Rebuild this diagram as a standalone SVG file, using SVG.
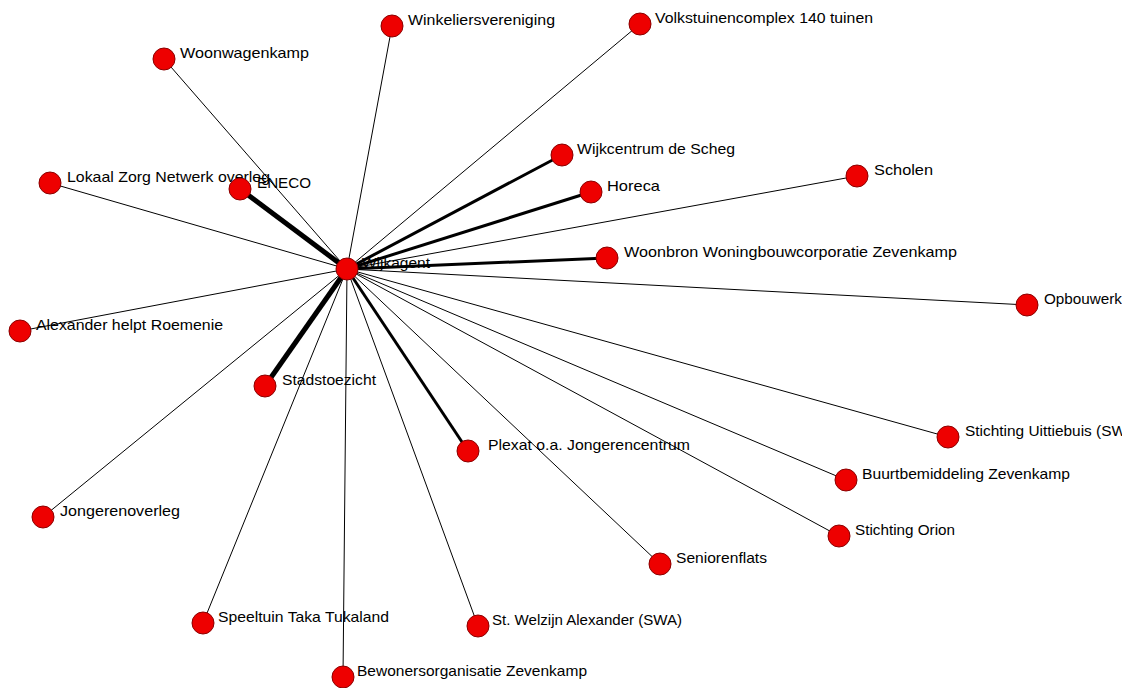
<svg xmlns="http://www.w3.org/2000/svg" width="1137" height="688" viewBox="0 0 1137 688">
<style>
.n{fill:#ee0000;stroke:#8b0000;stroke-width:1}
.t{font-family:"Liberation Sans",Arial,sans-serif;font-size:14.5px;fill:#000}
.e{stroke:#000;stroke-width:1;fill:none}
.m{stroke:#000;stroke-width:3;fill:none}
.w{stroke:#000;stroke-width:5;fill:none}
</style>
<defs>
<clipPath id="clip"><rect x="0" y="0" width="1122" height="688"/></clipPath>
</defs>
<rect width="1137" height="688" fill="#fff"/>
<g id="connectors">
<line class="e" x1="347" y1="269" x2="392" y2="26"/>
<line class="e" x1="347" y1="269" x2="640" y2="24"/>
<line class="e" x1="347" y1="269" x2="164" y2="59"/>
<line class="e" x1="347" y1="269" x2="50" y2="183"/>
<line class="w" x1="347" y1="269" x2="240" y2="189"/>
<line class="m" x1="347" y1="269" x2="562" y2="155"/>
<line class="m" x1="347" y1="269" x2="591" y2="192"/>
<line class="e" x1="347" y1="269" x2="857" y2="176"/>
<line class="m" x1="347" y1="269" x2="607" y2="258"/>
<line class="e" x1="347" y1="269" x2="1027" y2="305"/>
<line class="e" x1="347" y1="269" x2="20" y2="331"/>
<line class="w" x1="347" y1="269" x2="265" y2="386"/>
<line class="m" x1="347" y1="269" x2="468" y2="451"/>
<line class="e" x1="347" y1="269" x2="948" y2="437"/>
<line class="e" x1="347" y1="269" x2="846" y2="480"/>
<line class="e" x1="347" y1="269" x2="839" y2="536"/>
<line class="e" x1="347" y1="269" x2="43" y2="517"/>
<line class="e" x1="347" y1="269" x2="660" y2="564"/>
<line class="e" x1="347" y1="269" x2="203" y2="623"/>
<line class="e" x1="347" y1="269" x2="478" y2="626"/>
<line class="e" x1="347" y1="269" x2="343" y2="677"/>
</g>
<g id="wijkagent"><circle class="n" cx="347" cy="269" r="11"/><text class="t" x="362" y="268" textLength="68" lengthAdjust="spacingAndGlyphs">Wijkagent</text></g>
<g id="winkeliersvereniging"><circle class="n" cx="392" cy="26" r="11"/><text class="t" x="408" y="25" textLength="147" lengthAdjust="spacingAndGlyphs">Winkeliersvereniging</text></g>
<g id="volkstuinencomplex"><circle class="n" cx="640" cy="24" r="11"/><text class="t" x="655" y="23" textLength="218" lengthAdjust="spacingAndGlyphs">Volkstuinencomplex 140 tuinen</text></g>
<g id="woonwagenkamp"><circle class="n" cx="164" cy="59" r="11"/><text class="t" x="180" y="58" textLength="129" lengthAdjust="spacingAndGlyphs">Woonwagenkamp</text></g>
<g id="lokaal"><circle class="n" cx="50" cy="183" r="11"/><text class="t" x="67" y="182" textLength="203" lengthAdjust="spacingAndGlyphs">Lokaal Zorg Netwerk overleg</text></g>
<g id="eneco"><circle class="n" cx="240" cy="189" r="11"/><text class="t" x="257" y="188" textLength="54" lengthAdjust="spacingAndGlyphs">ENECO</text></g>
<g id="wijkcentrum"><circle class="n" cx="562" cy="155" r="11"/><text class="t" x="577" y="154" textLength="158" lengthAdjust="spacingAndGlyphs">Wijkcentrum de Scheg</text></g>
<g id="horeca"><circle class="n" cx="591" cy="192" r="11"/><text class="t" x="607" y="191" textLength="53" lengthAdjust="spacingAndGlyphs">Horeca</text></g>
<g id="scholen"><circle class="n" cx="857" cy="176" r="11"/><text class="t" x="874" y="175" textLength="59" lengthAdjust="spacingAndGlyphs">Scholen</text></g>
<g id="woonbron"><circle class="n" cx="607" cy="258" r="11"/><text class="t" x="624" y="257" textLength="333" lengthAdjust="spacingAndGlyphs">Woonbron Woningbouwcorporatie Zevenkamp</text></g>
<g id="opbouwerk" clip-path="url(#clip)"><circle class="n" cx="1027" cy="305" r="11"/><text class="t" x="1044" y="304" textLength="78" lengthAdjust="spacingAndGlyphs">Opbouwerk</text></g>
<g id="alexander"><circle class="n" cx="20" cy="331" r="11"/><text class="t" x="36" y="330" textLength="187" lengthAdjust="spacingAndGlyphs">Alexander helpt Roemenie</text></g>
<g id="stadstoezicht"><circle class="n" cx="265" cy="386" r="11"/><text class="t" x="282" y="385" textLength="94" lengthAdjust="spacingAndGlyphs">Stadstoezicht</text></g>
<g id="plexat"><circle class="n" cx="468" cy="451" r="11"/><text class="t" x="488" y="450" textLength="202" lengthAdjust="spacingAndGlyphs">Plexat o.a. Jongerencentrum</text></g>
<g id="uittiebuis" clip-path="url(#clip)"><circle class="n" cx="948" cy="437" r="11"/><text class="t" x="965" y="436" textLength="161" lengthAdjust="spacingAndGlyphs">Stichting Uittiebuis (SW</text></g>
<g id="buurtbemiddeling"><circle class="n" cx="846" cy="480" r="11"/><text class="t" x="862" y="479" textLength="208" lengthAdjust="spacingAndGlyphs">Buurtbemiddeling Zevenkamp</text></g>
<g id="orion"><circle class="n" cx="839" cy="536" r="11"/><text class="t" x="855" y="535" textLength="100" lengthAdjust="spacingAndGlyphs">Stichting Orion</text></g>
<g id="jongerenoverleg"><circle class="n" cx="43" cy="517" r="11"/><text class="t" x="60" y="516" textLength="120" lengthAdjust="spacingAndGlyphs">Jongerenoverleg</text></g>
<g id="seniorenflats"><circle class="n" cx="660" cy="564" r="11"/><text class="t" x="676" y="563" textLength="91" lengthAdjust="spacingAndGlyphs">Seniorenflats</text></g>
<g id="speeltuin"><circle class="n" cx="203" cy="623" r="11"/><text class="t" x="218" y="622" textLength="171" lengthAdjust="spacingAndGlyphs">Speeltuin Taka Tukaland</text></g>
<g id="welzijn"><circle class="n" cx="478" cy="626" r="11"/><text class="t" x="492" y="625" textLength="190" lengthAdjust="spacingAndGlyphs">St. Welzijn Alexander (SWA)</text></g>
<g id="bewonersorganisatie"><circle class="n" cx="343" cy="677" r="11"/><text class="t" x="357" y="676" textLength="230" lengthAdjust="spacingAndGlyphs">Bewonersorganisatie Zevenkamp</text></g>
</svg>
